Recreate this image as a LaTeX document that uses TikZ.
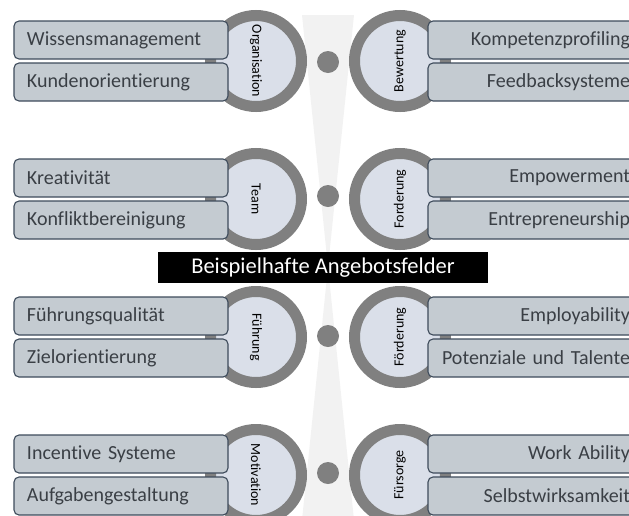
\documentclass[tikz,border=0pt]{standalone}
\usepackage{fontspec}
\setmainfont{Carlito}[Ligatures={NoCommon,NoContextual}]
\definecolor{boxfill}{HTML}{C4CBD1}
\definecolor{boxline}{HTML}{3E4B5B}
\definecolor{boxtext}{HTML}{3A3F45}
\definecolor{ringgray}{HTML}{808080}
\definecolor{innerfill}{HTML}{DADFE9}
\definecolor{hourglass}{HTML}{F2F2F2}
\begin{document}
\begin{tikzpicture}[x=1pt,y=-1pt,
  itembox/.style={draw=boxline, fill=boxfill, line width=1.1pt, rounded corners=5pt,
    minimum height=38pt, inner ysep=0pt, inner xsep=13pt, outer sep=0pt,
    text width=188pt, text=boxtext, font=\fontsize{20}{24}\selectfont},
  leftbox/.style={itembox, align=left},
  rightbox/.style={itembox, align=right, inner xsep=12pt, text width=190pt},
  ring/.style={circle, draw=ringgray, line width=11pt, fill=innerfill,
    minimum size=91pt, inner sep=0pt, outer sep=0pt, text=black,
    font=\fontsize{14}{17}\selectfont},
  ringL/.style={ring, rotate=-90},
  ringR/.style={ring, rotate=90},
  centerdot/.style={circle, fill=ringgray, minimum size=22pt, inner sep=0pt},
  banner/.style={fill=black, text=white, minimum width=330pt, minimum height=31pt,
    inner sep=0pt, font=\fontsize{22.5}{27}\selectfont}
]
\useasboundingbox (0,0) rectangle (629,515);
\clip (0,0) rectangle (629,515);
% hourglass background
\fill[hourglass] (302,15) -- (354,15) -- (328,267) -- cycle;
\fill[hourglass] (328,267) -- (302,520) -- (354,520) -- cycle;
% rows
\foreach \n/\J/\D/\cl/\cr/\la/\lb/\ra/\rb in {
  1/61/62/Organisation/Bewertung/Wissensmanagement/Kundenorientierung/Kompetenzprofiling/Feedbacksysteme,
  2/199/196/Team/Forderung/Kreativität/Konfliktbereinigung/Empowerment/Entrepreneurship,
  3/337/336/Führung/Förderung/Führungsqualität/Zielorientierung/Employability/Potenziale und Talente,
  4/475/473/Motivation/Fürsorge/Incentive Systeme/Aufgabengestaltung/Work Ability/Selbstwirksamkeit}{
  \node[ringL] (cl\n) at (256,\J) {\cl};
  \node[ringR] (cr\n) at (400,\J) {\cr};
  \node[centerdot] (dot\n) at (328,\D) {};
  \node[leftbox] (la\n) at (121,\J-21) {\la};
  \node[leftbox] (lb\n) at (121,\J+21) {\lb};
  \node[rightbox] (ra\n) at (535,\J-21) {\ra};
  \node[rightbox] (rb\n) at (535,\J+21) {\rb};
}
\node[banner] (title) at (323,267.5) {Beispielhafte Angebotsfelder};
\end{tikzpicture}
\end{document}
